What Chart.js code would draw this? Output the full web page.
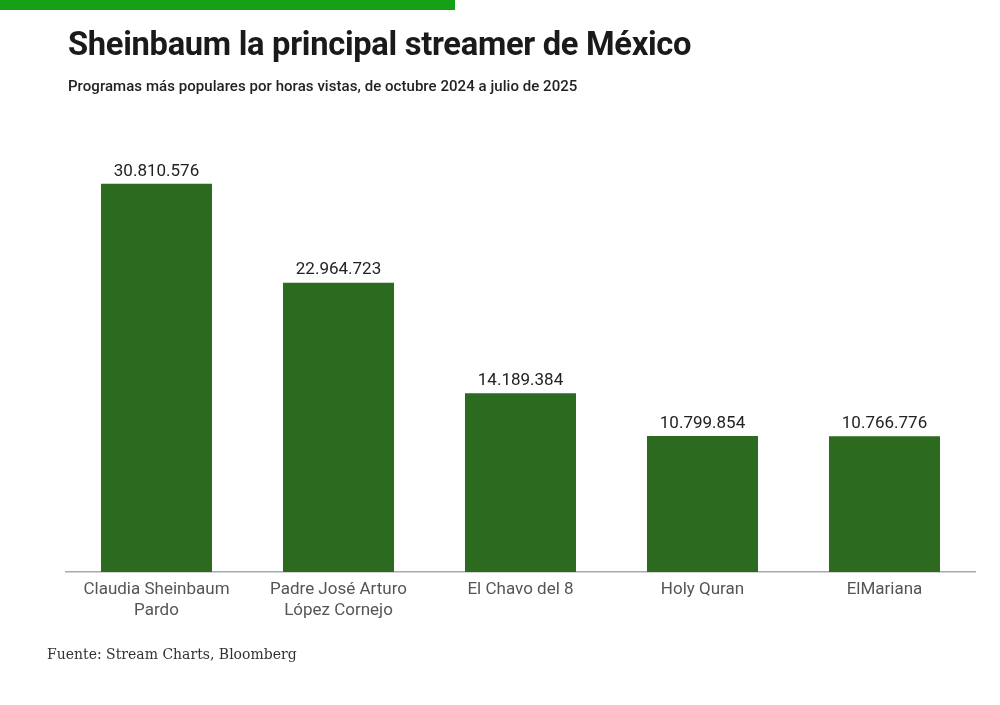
<!DOCTYPE html>
<html>
<head>
<meta charset="utf-8">
<script src="https://cdn.jsdelivr.net/npm/chart.js@4"></script>
<style>
  html, body { margin: 0; padding: 0; background: #fff; }
  body { width: 1000px; height: 705px; position: relative; overflow: hidden; font-family: Roboto, sans-serif; }
  #topbar { position: absolute; left: 0; top: 0; width: 455px; height: 10px; background: #16a016; }
  #title { position: absolute; left: 68px; top: 25px; font-size: 32.7px; font-weight: 700; color: #1a1a1a; letter-spacing: -0.3px; white-space: nowrap; }
  #subtitle { position: absolute; left: 68px; top: 77px; font-size: 15px; font-weight: 500; color: #222; letter-spacing: 0.05px; white-space: nowrap; }
  #source { position: absolute; left: 47px; top: 646px; font-family: "DejaVu Serif", serif; font-size: 14px; color: #333; white-space: nowrap; }
  #wrap { position: absolute; left: 0; top: 0; width: 1000px; height: 705px; }
</style>
</head>
<body>
<div id="topbar"></div>
<div id="wrap"><canvas id="myChart"></canvas></div>
<div id="title">Sheinbaum la principal streamer de México</div>
<div id="subtitle">Programas más populares por horas vistas, de octubre 2024 a julio de 2025</div>
<div id="source">Fuente: Stream Charts, Bloomberg</div>
<script>
  var categories = [
    ['Claudia Sheinbaum', 'Pardo'],
    ['Padre José Arturo', 'López Cornejo'],
    'El Chavo del 8',
    'Holy Quran',
    'ElMariana'
  ];
  var hours = [30810576, 22964723, 14189384, 10799854, 10766776];

  // numbers with dots as thousands separators
  function fmt(v) {
    return String(v).replace(/\B(?=(\d{3})+(?!\d))/g, '.');
  }

  var valueLabels = {
    id: 'valueLabels',
    afterDatasetsDraw: function (chart) {
      var ctx = chart.ctx;
      var meta = chart.getDatasetMeta(0);
      ctx.save();
      ctx.font = '17px Roboto';
      ctx.fillStyle = '#222';
      ctx.textAlign = 'center';
      ctx.textBaseline = 'bottom';
      meta.data.forEach(function (bar, i) {
        ctx.fillText(fmt(chart.data.datasets[0].data[i]), bar.x, bar.y - 4);
      });
      ctx.restore();
    }
  };

  new Chart('myChart', {
    type: 'bar',
    data: {
      labels: categories,
      datasets: [{
        data: hours,
        backgroundColor: '#2b6a1f',
        categoryPercentage: 1,
        barPercentage: 0.61
      }]
    },
    options: {
      responsive: true,
      maintainAspectRatio: false,
      animation: false,
      layout: {
        padding: { left: 65.5, right: 24.5, top: 131, bottom: 73 }
      },
      plugins: {
        legend: { display: false },
        tooltip: { enabled: false }
      },
      scales: {
        y: {
          display: false,
          min: 0,
          max: 35000000
        },
        x: {
          afterFit: function (scale) { scale.height = 60; },
          grid: { display: false, drawTicks: false },
          border: { display: true, color: '#aaa', width: 1.5 },
          ticks: {
            color: '#555',
            padding: 8,
            font: { family: 'Roboto', size: 17, lineHeight: 1.2 }
          }
        }
      }
    },
    plugins: [valueLabels]
  });
</script>
</body>
</html>
